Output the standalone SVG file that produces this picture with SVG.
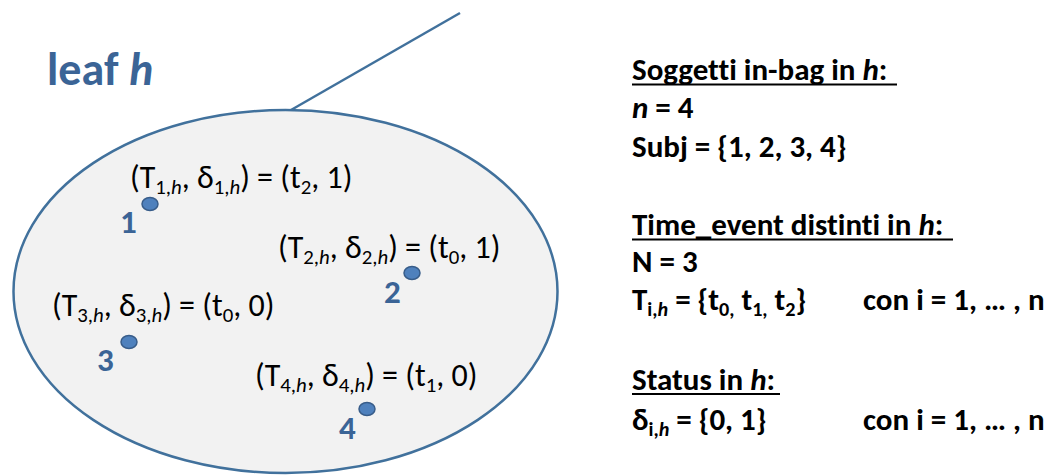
<svg xmlns="http://www.w3.org/2000/svg" width="1052" height="476" viewBox="0 0 1052 476">
  <style>
    text { font-variant-ligatures: none; }
    .ell { font-family: "Carlito", "Liberation Sans", Arial, sans-serif; font-size: 32px; fill: #000; }
    .info { font-family: "Carlito", "Liberation Sans", Arial, sans-serif; font-size: 31px; font-weight: bold; fill: #000; }
    .num { font-family: "Carlito", "Liberation Sans", Arial, sans-serif; font-size: 33px; font-weight: bold; fill: #3b6496; }
    .title { font-family: "Carlito", "Liberation Sans", Arial, sans-serif; font-size: 46px; font-weight: bold; fill: #3b6496; }
    .sub { font-size: 65%; }
    .it { font-style: italic; }
    .dot { fill: #4f81bd; stroke: #385d8a; stroke-width: 1.5; }
    .ul { stroke: #000; stroke-width: 2; }
  </style>
  <rect width="1052" height="476" fill="#ffffff"/>

  <g id="connectors">
    <line x1="291" y1="110" x2="460" y2="13" stroke="#41719c" stroke-width="2.5"/>
  </g>

  <g id="leaf">
    <ellipse cx="285.5" cy="291.5" rx="272" ry="181.5" fill="#f2f2f2" stroke="#41719c" stroke-width="2.5"/>
    <text class="title" x="47" y="85">leaf <tspan class="it">h</tspan></text>
  </g>

  <g id="subject1">
    <text class="ell" x="130" y="188">(T<tspan class="sub" dy="6">1,</tspan><tspan class="sub it">h</tspan><tspan dy="-6">, δ</tspan><tspan class="sub" dy="6">1,</tspan><tspan class="sub it">h</tspan><tspan dy="-6">) = (t</tspan><tspan class="sub" dy="6">2</tspan><tspan dy="-6">, 1)</tspan></text>
    <ellipse class="dot" cx="150" cy="204" rx="8" ry="6.5"/>
    <text class="num" x="120" y="233">1</text>
  </g>

  <g id="subject2">
    <text class="ell" x="278" y="258">(T<tspan class="sub" dy="6">2,</tspan><tspan class="sub it">h</tspan><tspan dy="-6">, δ</tspan><tspan class="sub" dy="6">2,</tspan><tspan class="sub it">h</tspan><tspan dy="-6">) = (t</tspan><tspan class="sub" dy="6">0</tspan><tspan dy="-6">, 1)</tspan></text>
    <ellipse class="dot" cx="412" cy="273" rx="8" ry="6.5"/>
    <text class="num" x="384" y="303">2</text>
  </g>

  <g id="subject3">
    <text class="ell" x="52" y="316">(T<tspan class="sub" dy="6">3,</tspan><tspan class="sub it">h</tspan><tspan dy="-6">, δ</tspan><tspan class="sub" dy="6">3,</tspan><tspan class="sub it">h</tspan><tspan dy="-6">) = (t</tspan><tspan class="sub" dy="6">0</tspan><tspan dy="-6">, 0)</tspan></text>
    <ellipse class="dot" cx="129" cy="342" rx="8" ry="6.5"/>
    <text class="num" x="97" y="371">3</text>
  </g>

  <g id="subject4">
    <text class="ell" x="255" y="386">(T<tspan class="sub" dy="6">4,</tspan><tspan class="sub it">h</tspan><tspan dy="-6">, δ</tspan><tspan class="sub" dy="6">4,</tspan><tspan class="sub it">h</tspan><tspan dy="-6">) = (t</tspan><tspan class="sub" dy="6">1</tspan><tspan dy="-6">, 0)</tspan></text>
    <ellipse class="dot" cx="367" cy="409" rx="8" ry="6.5"/>
    <text class="num" x="339" y="439">4</text>
  </g>

  <g id="info-subjects">
    <text class="info" x="632" y="80">Soggetti in-bag in <tspan class="it">h</tspan>:</text>
    <line class="ul" x1="632" y1="84.5" x2="897" y2="84.5"/>
    <text class="info" x="632" y="118"><tspan class="it">n</tspan> = 4</text>
    <text class="info" x="632" y="157">Subj = {1, 2, 3, 4}</text>
  </g>

  <g id="info-times">
    <text class="info" x="632" y="235">Time_event distinti in <tspan class="it">h</tspan>:</text>
    <line class="ul" x1="632" y1="239.5" x2="953" y2="239.5"/>
    <text class="info" x="632" y="272">N = 3</text>
    <text class="info" x="632" y="310">T<tspan class="sub" dy="6">i,</tspan><tspan class="sub it">h</tspan><tspan dy="-6"> = {t</tspan><tspan class="sub" dy="6">0,</tspan><tspan dy="-6"> t</tspan><tspan class="sub" dy="6">1,</tspan><tspan dy="-6"> t</tspan><tspan class="sub" dy="6">2</tspan><tspan dy="-6">}</tspan></text>
    <text class="info" x="863" y="310">con i = 1, … , n</text>
  </g>

  <g id="info-status">
    <text class="info" x="632" y="390">Status in <tspan class="it">h</tspan>:</text>
    <line class="ul" x1="632" y1="394" x2="780" y2="394"/>
    <text class="info" x="632" y="430">δ<tspan class="sub" dy="6">i,</tspan><tspan class="sub it">h</tspan><tspan dy="-6"> = {0, 1}</tspan></text>
    <text class="info" x="863" y="430">con i = 1, … , n</text>
  </g>
</svg>
